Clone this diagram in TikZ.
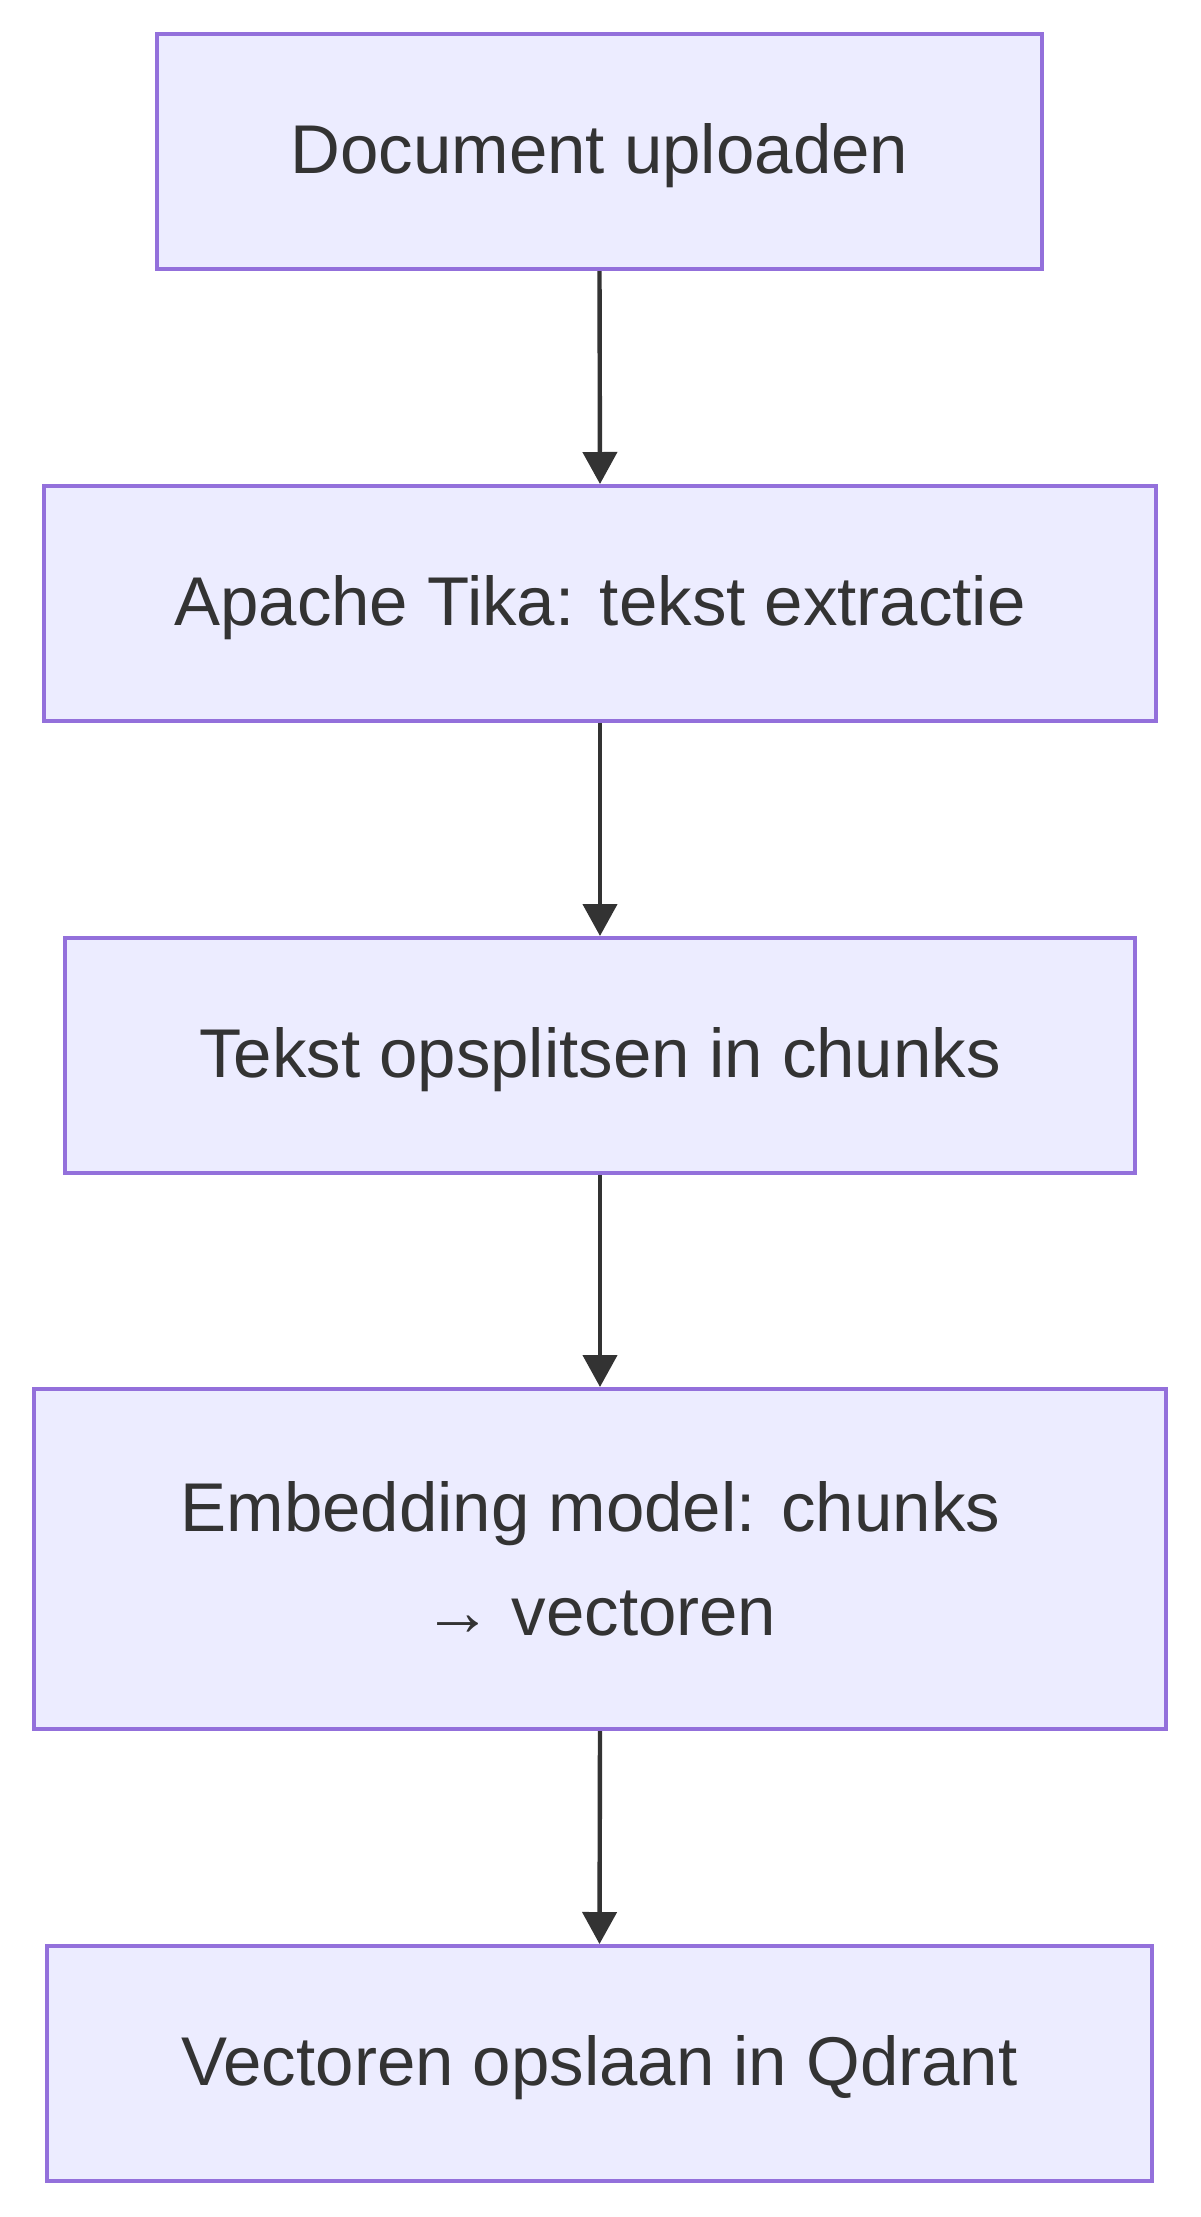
\documentclass[tikz,border=0pt]{standalone}
\usepackage{fontspec}
\setmainfont{Liberation Sans}
\usetikzlibrary{arrows.meta}
\definecolor{ink}{HTML}{333333}
\definecolor{boxLine}{HTML}{9370DB}
\definecolor{boxFill}{HTML}{ECECFF}
\tikzset{>={Triangle[length=16pt,width=17pt]},
  stap/.style={draw=boxLine,fill=boxFill,line width=2pt,minimum height=117.5pt,
    font=\fontsize{34.5}{52}\selectfont,text=ink,align=center,inner sep=0pt},
  eenregel/.style={stap,text height=25pt,text depth=3pt},
  pijl/.style={->,draw=ink,fill=ink,line width=2.2pt}}
\begin{document}
\begin{tikzpicture}[x=0.5pt,y=-0.5pt]
\useasboundingbox (0,0) rectangle (1200,2217);
\node[eenregel,minimum width=442.5pt] (upload) at (599.5,151.5) {Document uploaden};
\node[eenregel,minimum width=556pt] (tika) at (600,603.5) {Apache Tika: tekst extractie};
\node[eenregel,minimum width=535pt] (split) at (600,1055.5) {Tekst opsplitsen in chunks};
\node[stap,minimum width=566pt,minimum height=170pt] (embed) at (600,1559) {Embedding model: chunks\kern9.6pt\\→ vectoren};
\node[eenregel,minimum width=552.5pt] (store) at (599.5,2063.5) {Vectoren opslaan in Qdrant};
\draw[pijl] (upload.south) -- (tika.north);
\draw[pijl] (tika.south) -- (split.north);
\draw[pijl] (split.south) -- (embed.north);
\draw[pijl] (embed.south) -- (store.north);
\end{tikzpicture}
\end{document}
